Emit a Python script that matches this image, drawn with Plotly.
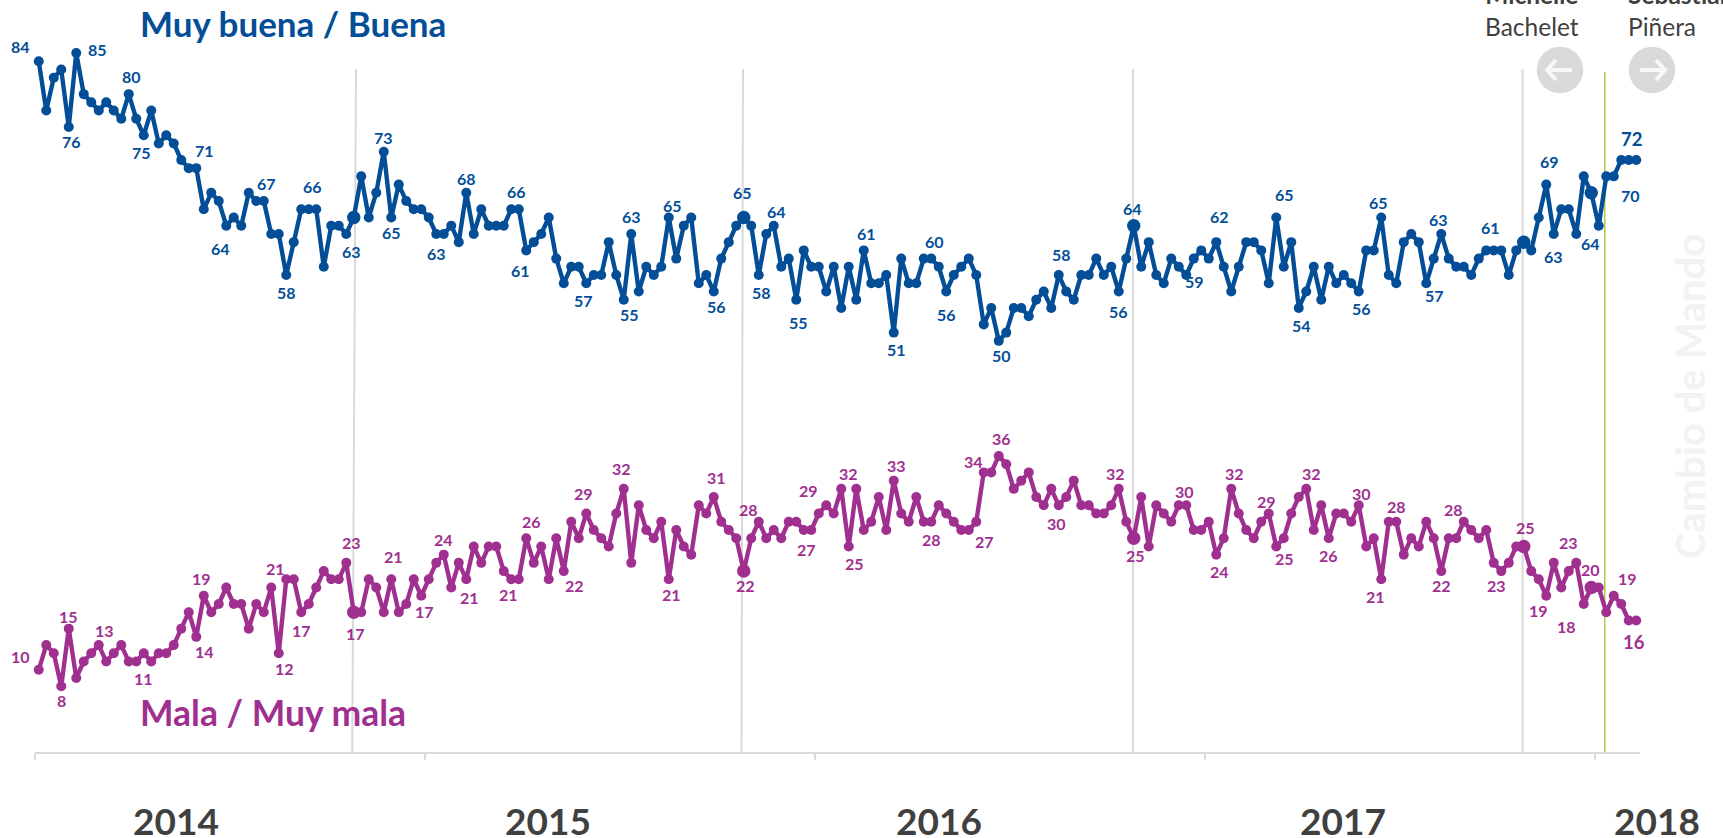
import plotly.graph_objects as go

buena = [84,78,82,83,76,85,80,79,78,79,78,77,80,77,75,78,74,75,74,72,71,71,66,68,67,64,65,64,68,67,67,63,63,58,62,66,66,66,59,64,64,63,65,70,65,68,73,65,69,67,66,66,65,
63,63,64,62,68,63,66,64,64,64,66,66,61,62,63,65,60,57,59,59,57,58,58,62,58,55,63,56,59,58,59,65,60,64,65,57,58,56,60,62,64,65,64,58,63,64,59,60,55,61,59,59,56,59,54,
59,55,61,57,57,58,51,60,57,57,60,60,59,56,58,59,60,58,52,54,50,51,54,54,53,55,56,54,58,56,55,58,58,60,58,59,56,60,64,59,62,58,57,60,59,58,60,61,60,62,59,56,59,62,62,61,
57,65,59,62,54,56,59,55,59,57,58,57,56,61,61,65,58,57,62,63,62,57,60,63,60,59,59,58,60,61,61,61,58,61,62,61,65,69,63,66,66,63,70,68,64,70,70,72,72,72]
mala = [10,13,12,8,15,9,11,12,13,11,12,13,11,11,12,11,12,12,13,15,17,14,19,17,18,20,18,18,15,18,17,20,12,21,21,17,18,20,22,21,21,23,17,17,21,20,17,21,17,18,21,19,21,
23,24,20,23,21,25,23,25,25,22,21,21,26,23,25,21,26,22,28,26,29,27,26,25,29,32,23,30,27,26,28,21,27,25,24,30,29,31,28,27,26,22,26,28,26,27,26,28,28,27,27,29,30,29,32,
25,32,27,28,31,27,33,29,28,31,28,28,30,29,28,27,27,28,34,34,36,35,32,33,34,31,30,32,30,31,33,30,30,29,29,30,32,28,26,31,25,30,29,28,30,30,27,27,28,24,26,32,29,27,26,28,
29,25,26,29,31,32,27,30,26,29,29,28,30,25,26,21,28,28,24,26,25,28,26,22,26,26,28,27,26,27,23,22,23,25,25,22,21,19,23,20,22,23,18,20,20,17,19,18,16,16]
weeks = list(range(len(buena)))

year_labels = ["2014", "2015", "2016", "2017", "2018"]
year_starts = [-0.5, 51.5, 103.5, 155.5, 207.5]
big_points = [42, 94, 146, 198, 207]

# (week, dx, dy) : label offsets from the point, in pixels
buena_labels = [(0,-18.7,-14.7),(4,3,14.7),(5,21,-3.3),(12,2.7,-17.7),(14,-2.3,17.3),(21,8,-17.7),(25,-5.3,23),(30,2.7,-17.7),
(33,0,17.3),(36,3.3,-22.7),(41,5,17.7),(46,0,-14.3),(47,0,15),(53,0,19.3),(57,0,-14.3),(63,5.3,-18),(65,-5.3,20),(73,-2.7,17.3),
(78,5.7,14.7),(79,0,-17.3),(84,3.7,-12),(90,3,15),(94,-1.3,-25.3),(96,3,17.7),(98,3,-14.3),(101,2.7,22.7),(110,2.7,-16.7),
(114,2.7,16.7),(119,3,-17),(121,0,22.7),(128,3,14.3),(136,3,-20.3),(144,0,20),(146,-1,-17.3),(152,15.7,15),(157,3,-25.7),
(165,8.3,-23),(168,2.7,17.3),(176,2.7,17),(179,-2.3,-15),(185,8.3,12),(187,-2.3,-14.7),(194,-3,-22.7),(201,3,-23),(202,0,22.3),
(208,-8,17.7),(210,16.7,19.3)]
mala_labels = [(0,-18.7,-13),(3,0,14.3),(4,0,-11.7),(8,6,-14.3),(15,-7.7,17.3),(21,8.3,15),(22,-2,-17.3),(32,5.7,14.7),(33,-11,-11.3),
(35,0,18),(41,5.3,-20.3),(42,1.7,21.7),(47,2.7,-22.7),(48,26,-1),(54,0,-15),(57,3,17.7),(63,-2.7,14.7),(65,5,-17),(70,11,14.7),
(73,-2.3,-20.3),(78,-2.3,-20.3),(84,2.7,14.7),(90,3,-20),(94,1.7,14.7),(96,-10,-12),(102,3,19.7),(104,-10.3,-23),(107,7,-15.3),
(108,5.3,17.3),(114,2.7,-15),(119,0,17.3),(124,16,12),(126,-10.3,-11.3),(128,3,-17.3),(136,-2.3,17.7),(144,-3,-15.3),(148,-13.3,9),
(153,-2,-14.3),(157,3,17.3),(159,3,-15.3),(164,-2,-12.3),(165,8.3,12.3),(169,5.7,-15.3),(172,0,17.7),(176,2.7,-11.7),(179,-5.3,17),
(181,0,-15),(187,0,14.3),(190,-10.7,-12),(194,2.7,22.7),(198,1.3,-19.3),(201,-7.7,15),(205,-8,-20.3),(206,-17,22.7),(207,-1,-18),(210,14,-17)]
buena_last = (212, 3, -20.7)
mala_last = (213, -2, 21.7)

BLUE = "#034E97"
PURPLE = "#A03090"
W, H = 1723, 838
L, R, T, B = 35, 83, 0, 86.3
PW, PH = W - L - R, H - T - B
FONT = "Lato"

def px(x):
    return (x - L) / PW

def py(y):
    return 1 - (y - T) / PH

fig = go.Figure()
sizes = [13.5 if i in big_points else 10 for i in weeks]
for name, vals, col in (("Muy buena / Buena", buena, BLUE), ("Mala / Muy mala", mala, PURPLE)):
    fig.add_trace(go.Scatter(x=weeks, y=vals, mode="lines+markers", name=name, cliponaxis=False,
                             line=dict(color=col, width=4.4),
                             marker=dict(color=col, size=sizes, opacity=1, line=dict(width=0))))

ann = []
def label(vals, item, col, size=16):
    i, dx, dy = item
    ann.append(dict(x=i, y=vals[i], xref="x", yref="y", text=str(vals[i]), showarrow=False,
                    xshift=dx, yshift=-dy, xanchor="center", yanchor="middle",
                    font=dict(family=FONT, size=size, color=col, weight="bold")))

for it in buena_labels:
    label(buena, it, BLUE)
for it in mala_labels:
    label(mala, it, PURPLE)
label(buena, buena_last, BLUE, 18.5)
label(mala, mala_last, PURPLE, 18.5)

def text(x, y, s, size, col, bold=False, xanchor="left", angle=0, align="center"):
    ann.append(dict(x=px(x), y=py(y), xref="paper", yref="paper", text=s, showarrow=False, xanchor=xanchor,
                    yanchor="middle", textangle=angle, align=align,
                    font=dict(family=FONT, size=size, color=col, weight="bold" if bold else "normal")))

text(138, 23, "Muy buena / Buena", 35, BLUE, True)
text(138, 712, "Mala / Muy mala", 35.5, PURPLE, True)
for s, x in zip(year_labels, [175.5, 548, 939, 1343, 1657]):
    text(x, 820, s, 37, "#404040", True, "center")
text(1532, 10.5, "<b>Michelle</b><br>Bachelet", 24.5, "#404040", False, "center")
text(1626, 10.5, "<b>Sebastián</b><br>Piñera", 24.5, "#404040", False, "left", align="left")
text(1690, 397, "Cambio de Mando", 40, "#F2F2F2", True, "center", -90)

shapes = []
for x0, x1 in ((41.8, 42.3), (93.7, 93.9), (145.9, 145.9), (197.85, 197.85)):
    shapes.append(dict(type="line", xref="x", yref="y", x0=x0, x1=x1, y0=0, y1=83.05, layer="below",
                       line=dict(color="#D9D9D9", width=2)))
shapes.append(dict(type="line", xref="x", yref="y", x0=208.8, x1=208.8, y0=0, y1=82.7, layer="below",
                   line=dict(color="#B2CB4C", width=1.6)))
for cx, sgn in ((1560, -1), (1652, 1)):
    r = 23.3
    shapes.append(dict(type="circle", xref="paper", yref="paper", x0=px(cx - r), x1=px(cx + r), y0=py(70 + r), y1=py(70 - r),
                       fillcolor="#D9D9D9", line=dict(width=0), layer="below"))
    shapes.append(dict(type="line", xref="paper", yref="paper", x0=px(cx - 12), x1=px(cx + 12), y0=py(70), y1=py(70),
                       line=dict(color="#F8F8F8", width=4)))
    tip = cx + sgn * 13
    shapes.append(dict(type="path", xref="paper", yref="paper",
                       path=f"M {px(tip - sgn * 9)} {py(60)} L {px(tip)} {py(70)} L {px(tip - sgn * 9)} {py(80)}",
                       line=dict(color="#F8F8F8", width=4)))

fig.update_layout(
    width=W, height=H, margin=dict(l=L, r=R, t=T, b=B, pad=0), autosize=False,
    plot_bgcolor="white", paper_bgcolor="white", showlegend=False,
    annotations=ann, shapes=shapes, hovermode=False,
    xaxis=dict(range=[-0.5, 213.5], showgrid=False, zeroline=False, showline=True, linecolor="#D9D9D9", linewidth=2,
               tickmode="array", tickvals=year_starts, ticktext=[""] * len(year_starts), ticks="outside", ticklen=6,
               tickcolor="#D9D9D9", tickwidth=1.5),
    yaxis=dict(range=[0, PH / 8.22], visible=False, showgrid=False, zeroline=False),
)
fig.write_html("out.html", config=dict(displayModeBar=False), post_script="document.body.style.margin='0';document.body.style.overflow='hidden';")
